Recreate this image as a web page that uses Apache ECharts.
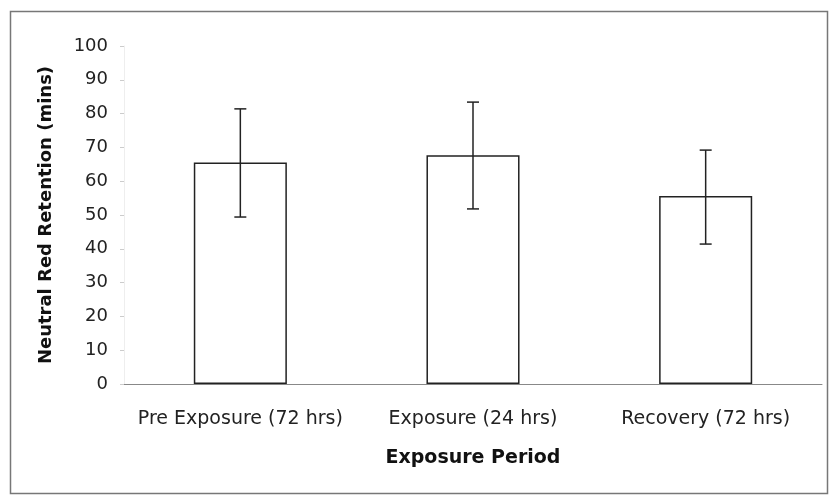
<!DOCTYPE html>
<html>
<head>
<meta charset="utf-8">
<script src="https://cdn.jsdelivr.net/npm/echarts@6/dist/echarts.min.js"></script>
<style>
    html, body { margin: 0; padding: 0; background: #fff; }
    #main { width: 829px; height: 495px; }
</style>
</head>
<body>
<div id="main"></div>
<script>
// values
var categories = ['Pre Exposure (72 hrs)', 'Exposure (24 hrs)', 'Recovery (72 hrs)'];
var means = [65.5, 67.7, 55.6];
var errLow = [49.4, 51.8, 41.4];
var errHigh = [81.4, 83.4, 69.2];
var yTicks = [0, 10, 20, 30, 40, 50, 60, 70, 80, 90, 100];

var errData = categories.map(function (c, i) {
    return [i, errLow[i], errHigh[i]];
});

var chart = echarts.init(document.getElementById('main'));
chart.setOption({
    backgroundColor: '#fff',
    animation: false,
    textStyle: { fontFamily: 'DejaVu Sans' },
    graphic: [{
        type: 'rect',
        shape: { x: 10.5, y: 11.5, width: 817, height: 482 },
        style: { fill: 'none', stroke: '#777', lineWidth: 1.5 },
        silent: true
    }],
    grid: { left: 124, right: 7, top: 46, bottom: 111, containLabel: false },
    xAxis: {
        type: 'category',
        data: categories,
        name: 'Exposure Period',
        nameLocation: 'middle',
        nameGap: 65,
        nameTextStyle: { fontFamily: 'DejaVu Sans', fontSize: 19, fontWeight: 'bold', color: '#111' },
        axisLine: { lineStyle: { color: '#888', width: 1 } },
        axisTick: { show: false },
        axisLabel: { interval: 0, hideOverlap: false, fontFamily: 'DejaVu Sans', fontSize: 19, color: '#222', margin: 26 }
    },
    yAxis: {
        type: 'value',
        min: yTicks[0],
        max: yTicks[yTicks.length - 1],
        interval: 10,
        name: 'Neutral Red Retention (mins)',
        nameLocation: 'middle',
        nameGap: 69,
        nameTextStyle: { fontFamily: 'DejaVu Sans', fontSize: 18, fontWeight: 'bold', color: '#111' },
        axisLine: { show: true, lineStyle: { color: '#eee' } },
        axisTick: { show: true, inside: false, length: 4, lineStyle: { color: '#ccc' } },
        splitLine: { show: false },
        axisLabel: { fontFamily: 'DejaVu Sans', fontSize: 18, color: '#222', margin: 16 }
    },
    series: [{
        type: 'bar',
        data: means,
        barWidth: '40%',
        itemStyle: { color: '#fff', borderColor: '#222', borderWidth: 1.5 }
    }, {
        type: 'custom',
        data: errData,
        z: 10,
        renderItem: function (params, api) {
            var lo = api.coord([api.value(0), api.value(1)]);
            var hi = api.coord([api.value(0), api.value(2)]);
            var hw = 6;
            var st = { stroke: '#222', lineWidth: 1.5 };
            return {
                type: 'group',
                children: [
                    { type: 'line', shape: { x1: hi[0], y1: hi[1], x2: lo[0], y2: lo[1] }, style: st },
                    { type: 'line', shape: { x1: hi[0] - hw, y1: hi[1], x2: hi[0] + hw, y2: hi[1] }, style: st },
                    { type: 'line', shape: { x1: lo[0] - hw, y1: lo[1], x2: lo[0] + hw, y2: lo[1] }, style: st }
                ]
            };
        }
    }]
});
</script>
</body>
</html>
